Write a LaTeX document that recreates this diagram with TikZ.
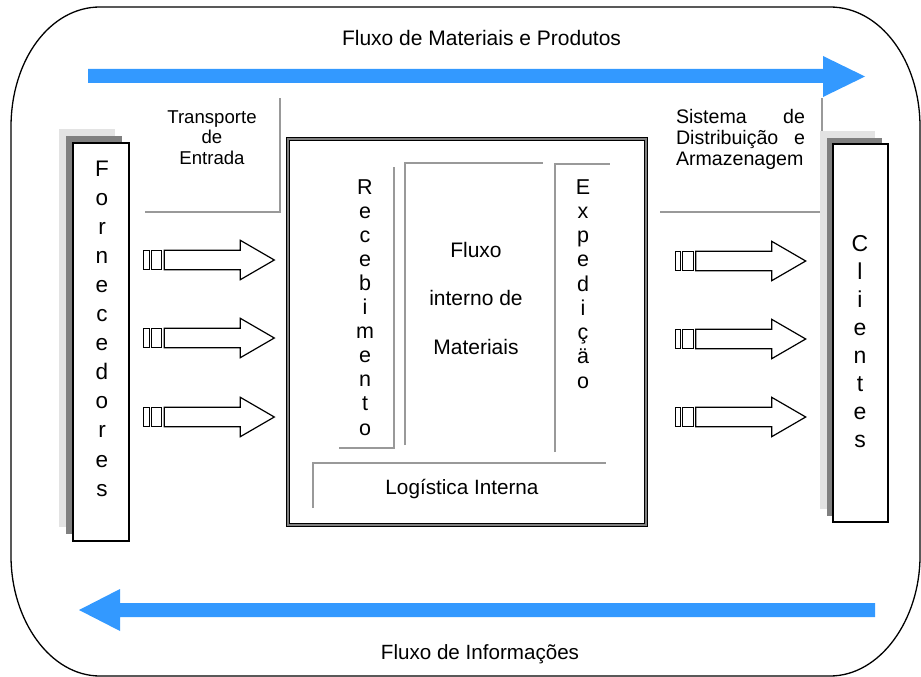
\documentclass[tikz,border=0pt]{standalone}
\usepackage{fontspec}
\setmainfont{Liberation Sans}

\definecolor{flowblue}{HTML}{3399FF}
\definecolor{guide}{HTML}{999999}
\definecolor{shadelight}{HTML}{E3E3E3}
\definecolor{shadedark}{HTML}{808080}

% a column of centred rows whose baseline is the first row
\newcommand\letterstack[1]{\begin{tabular}[t]{@{}c@{}}#1\end{tabular}}

\tikzset{
  txt/.style={inner sep=0pt, outer sep=0pt, anchor=base},
  guideline/.style={draw=guide, line width=2pt},
  panel/.style={draw=black, fill=white, line width=1.3pt, inner sep=0pt},
  blockarrow/.pic={
    \draw[line width=1.2pt, line join=miter, fill=white]
      (0,-9.7) -- (76,-9.7) -- (76,-19.7) -- (110,0) -- (76,19.7)
      -- (76,9.7) -- (0,9.7) -- cycle;
    \draw[line width=1pt] (-20.5,-9.7) rectangle (-15,9.7);
    \draw[line width=1pt] (-13.3,-9.7) rectangle (-2.7,9.7);
  }
}

\begin{document}
\begin{tikzpicture}[x=1pt,y=-1pt]
\useasboundingbox (0,0) rectangle (921,677);

% outer rounded frame
\draw[line width=1.3pt]
  (100,7) -- (830,7) .. controls (880,7) and (920,60) .. (920,127)
  -- (920,556) .. controls (920,620) and (880,676) .. (830,676)
  -- (100,676) .. controls (50,676) and (11,620) .. (11,556)
  -- (11,127) .. controls (11,60) and (50,7) .. (100,7) -- cycle;

% material flow (top) and information flow (bottom)
\fill[flowblue] (88,69) -- (823,69) -- (823,56) -- (865,76.5) -- (823,97)
  -- (823,83) -- (88,83) -- cycle;
\fill[flowblue] (875,603) -- (120,603) -- (120,589) -- (79,610) -- (120,631)
  -- (120,617) -- (875,617) -- cycle;

\node[txt, font=\fontsize{21}{25}\selectfont] (tmat) at (481.5,46)
  {Fluxo de Materiais e Produtos};
\node[txt, font=\fontsize{20.6}{25}\selectfont] (tinf) at (480,659)
  {Fluxo de Informações};

% side brackets
\draw[guideline] (145,212) -- (280,212) -- (280,98);
\draw[guideline] (660,212) -- (822,212) -- (822,98);

\node[txt, font=\fontsize{18.6}{20.5}\selectfont] (ttrans) at (212,123)
  {\letterstack{Transporte\\de\\Entrada}};
\node[txt, anchor=base west, font=\fontsize{19.6}{21}\selectfont] (tsist) at (676,123)
  {\begin{tabular}[t]{@{}l@{}}\makebox[129pt][s]{Sistema de}\\
   \makebox[129pt][s]{Distribuição e}\\Armazenagem\end{tabular}};

% suppliers panel with stacked shadows
\fill[shadelight] (59,129) rectangle (115,527);
\fill[shadedark] (66,136) rectangle (122,534);
\node[panel, minimum width=56pt, minimum height=398pt] (forn) at (101,342) {};
\node[txt, font=\fontsize{22.5}{29.1}\selectfont] (fornlbl) at (102,176)
  {\letterstack{F\\o\\r\\n\\e\\c\\e\\d\\o\\r\\e\\s}};

% customers panel with stacked shadows
\fill[shadelight] (820,131) rectangle (875,509);
\fill[shadedark] (826.5,137.5) rectangle (881.5,515.5);
\node[panel, minimum width=55pt, minimum height=378pt] (cli) at (860.5,333) {};
\node[txt, font=\fontsize{23}{28}\selectfont] (clilbl) at (860,251.7)
  {\letterstack{C\\l\\i\\e\\n\\t\\e\\s}};

% internal logistics box
\node[draw=black, double=shadedark, double distance=2.2pt, line width=1.1pt,
      fill=white, inner sep=0pt, minimum width=357.9pt, minimum height=386.2pt]
  (interna) at (466.9,332) {};

\draw[guideline] (339,448) -- (394,448) -- (394,167);
\draw[guideline] (405,445) -- (405,163) -- (543,163);
\draw[guideline] (555,452) -- (555,164) -- (610,164);
\draw[guideline] (313,508) -- (313,463) -- (606,463);

\node[txt, font=\fontsize{21.5}{24.1}\selectfont] (receb) at (365,194)
  {\letterstack{R\\e\\c\\e\\b\\i\\m\\e\\n\\t\\o}};
\node[txt, font=\fontsize{21.5}{24.25}\selectfont] (exped) at (583,194)
  {\letterstack{E\\x\\p\\e\\d\\i\\ç\\ä\\o}};
\node[txt, font=\fontsize{21}{48.5}\selectfont] (fluxint) at (476,257)
  {\letterstack{Fluxo\\interno de\\Materiais}};
\node[txt, font=\fontsize{20.7}{25}\selectfont] (logint) at (462,494)
  {Logística Interna};

% inbound and outbound block arrows
\foreach \yy in {260,338,417} \pic at (164.3,\yy) {blockarrow};
\foreach \yy in {261,339,417} \pic at (695.7,\yy) {blockarrow};

\end{tikzpicture}
\end{document}
